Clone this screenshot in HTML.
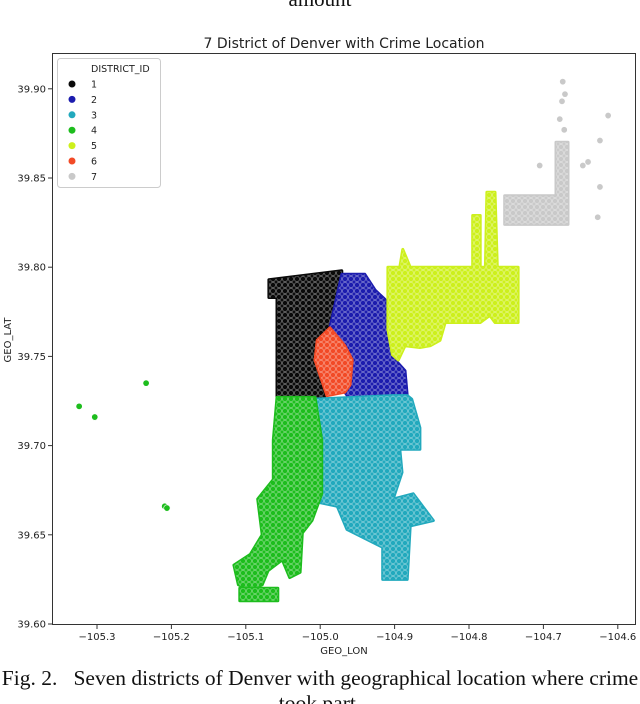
<!DOCTYPE html>
<html><head><meta charset="utf-8">
<style>
body{margin:0;background:#fff;}
svg{display:block;}
.t{font-family:"DejaVu Sans","Liberation Sans",sans-serif;fill:#222;}
.cap{font-family:"Liberation Serif",serif;fill:#111;}
</style></head>
<body>
<svg id="chart" width="640" height="704" viewBox="0 0 640 704" xmlns="http://www.w3.org/2000/svg">
<defs>
<pattern id="dots" width="6" height="6" patternUnits="userSpaceOnUse">
<circle cx="3" cy="3" r="2.6" fill="none" stroke="#fff" stroke-opacity="0.45" stroke-width="0.7"/>
</pattern>
</defs>
<text class="cap" x="320" y="6" font-size="21" text-anchor="middle">amount</text>
<text class="t" x="344" y="48" font-size="14" text-anchor="middle">7 District of Denver with Crime Location</text>
<g id="marks"></g>
<rect x="52.5" y="53.5" width="583" height="571" fill="none" stroke="#333" stroke-width="1"/>
<g id="axes"></g>
<text class="t" x="344" y="654" font-size="10" text-anchor="middle">GEO_LON</text>
<text class="t" transform="translate(11,340) rotate(-90)" font-size="10" text-anchor="middle">GEO_LAT</text>
<g>
<rect x="57.5" y="58.5" width="103" height="129" rx="3" fill="#fff" fill-opacity="0.85" stroke="#ccc"/>
<text class="t" x="91" y="72" font-size="9.5">DISTRICT_ID</text>
<g id="legend-items"></g>
</g>
<text class="cap" x="320" y="685" font-size="21.5" text-anchor="middle">Fig. 2.&#160;&#160; Seven districts of Denver with geographical location where crime</text>
<text class="cap" x="320" y="710" font-size="21.5" text-anchor="middle">took part.</text>
</svg>
<script>
const districtIds = ["1","2","3","4","5","6","7"];
const districtColors = ["#0a0a0a","#1c1cae","#22a9bd","#1dbd1d","#cdf01c","#f24a26","#c9c9c9"];
const xTicks = [-105.3,-105.2,-105.1,-105.0,-104.9,-104.8,-104.7,-104.6];
const xTickLabels = ["\u2212105.3","\u2212105.2","\u2212105.1","\u2212105.0","\u2212104.9","\u2212104.8","\u2212104.7","\u2212104.6"];
const yTicks = [39.60,39.65,39.70,39.75,39.80,39.85,39.90];
const yTickLabels = ["39.60","39.65","39.70","39.75","39.80","39.85","39.90"];
// district areas (lon,lat polygons)
const area1 = [[-105.069,39.793],[-104.971,39.798],[-104.971,39.790],[-104.987,39.766],[-105.004,39.759],[-105.007,39.748],[-104.994,39.727],[-105.058,39.727],[-105.058,39.783],[-105.069,39.783]];
const area2 = [[-104.971,39.796],[-104.940,39.796],[-104.926,39.787],[-104.913,39.782],[-104.906,39.776],[-104.909,39.765],[-104.899,39.748],[-104.886,39.742],[-104.883,39.728],[-104.902,39.728],[-104.910,39.726],[-104.960,39.726],[-104.967,39.730],[-104.957,39.748],[-104.967,39.756],[-104.987,39.766]];
const area3 = [[-105.011,39.726],[-104.902,39.728],[-104.883,39.728],[-104.877,39.726],[-104.866,39.710],[-104.866,39.698],[-104.893,39.698],[-104.890,39.685],[-104.902,39.670],[-104.875,39.673],[-104.848,39.658],[-104.879,39.655],[-104.883,39.625],[-104.916,39.625],[-104.916,39.643],[-104.964,39.653],[-104.977,39.666],[-105.000,39.668],[-105.000,39.703]];
const area4 = [[-105.058,39.727],[-105.007,39.727],[-104.998,39.703],[-104.998,39.673],[-105.011,39.658],[-105.024,39.651],[-105.027,39.629],[-105.041,39.626],[-105.051,39.636],[-105.070,39.630],[-105.078,39.622],[-105.094,39.619],[-105.110,39.622],[-105.116,39.633],[-105.094,39.639],[-105.078,39.650],[-105.084,39.670],[-105.063,39.681],[-105.063,39.703]];
const area4b = [[-105.108,39.620],[-105.057,39.620],[-105.057,39.613],[-105.108,39.613]];
const area5 = [[-104.909,39.800],[-104.893,39.800],[-104.889,39.810],[-104.879,39.800],[-104.795,39.800],[-104.795,39.829],[-104.785,39.829],[-104.785,39.800],[-104.778,39.800],[-104.776,39.842],[-104.765,39.842],[-104.762,39.800],[-104.734,39.800],[-104.734,39.769],[-104.765,39.769],[-104.772,39.773],[-104.785,39.769],[-104.832,39.769],[-104.839,39.759],[-104.852,39.756],[-104.866,39.755],[-104.886,39.756],[-104.895,39.748],[-104.903,39.751],[-104.909,39.765]];
const area6 = [[-104.987,39.766],[-104.967,39.756],[-104.957,39.748],[-104.960,39.734],[-104.967,39.730],[-104.991,39.728],[-105.007,39.748],[-105.004,39.759]];
const area7 = [[-104.752,39.840],[-104.683,39.840],[-104.683,39.870],[-104.667,39.870],[-104.667,39.824],[-104.752,39.824]];
const areas = [[area1],[area2],[area3],[area4,area4b],[area5],[area6],[area7]];
// isolated points
const outlierLon = [-105.324,-105.303,-105.209,-105.206,-105.234,-104.613,-104.624,-104.624,-104.627,-104.705,-104.647,-104.674,-104.671,-104.678,-104.672,-104.675,-104.640];
const outlierLat = [39.722,39.716,39.666,39.665,39.735,39.885,39.871,39.845,39.828,39.857,39.857,39.904,39.897,39.883,39.877,39.893,39.859];
const outlierDistrict = [4,4,4,4,4,7,7,7,7,7,7,7,7,7,7,7,7];

const NS="http://www.w3.org/2000/svg";
function xs(lon){return 97+(lon+105.3)*744;}
function ys(lat){return 624-(lat-39.60)*1784;}
function mk(tag,attrs,parent){const e=document.createElementNS(NS,tag);for(const k in attrs)e.setAttribute(k,attrs[k]);parent.appendChild(e);return e;}

const marks=document.getElementById('marks');
areas.forEach((polys,i)=>{
  polys.forEach(poly=>{
    const d='M'+poly.map(p=>xs(p[0]).toFixed(1)+','+ys(p[1]).toFixed(1)).join('L')+'Z';
    const a=mk('path',{d:d,fill:districtColors[i],stroke:districtColors[i],'stroke-width':3,'stroke-linejoin':'round'},marks);
    
    
    const b=mk('path',{d:d,fill:'url(#dots)'},marks);
    
    
  });
});
outlierLon.forEach((lon,i)=>{
  const c=mk('circle',{cx:xs(lon),cy:ys(outlierLat[i]),r:3.2,fill:districtColors[outlierDistrict[i]-1],stroke:'#fff','stroke-width':0.6},marks);
  
  
});

const axes=document.getElementById('axes');
xTicks.forEach((v,i)=>{
  const x=xs(v);
  mk('line',{x1:x,x2:x,y1:625,y2:629,stroke:'#333'},axes);
  const t=mk('text',{x:x,y:640,'font-size':10,'text-anchor':'middle',class:'t'},axes);
  t.textContent=xTickLabels[i];
  
  
});
yTicks.forEach((v,i)=>{
  const y=ys(v);
  mk('line',{x1:48,x2:52,y1:y,y2:y,stroke:'#333'},axes);
  const t=mk('text',{x:46,y:y+3.5,'font-size':10,'text-anchor':'end',class:'t'},axes);
  t.textContent=yTickLabels[i];
  
  
});

const leg=document.getElementById('legend-items');
districtIds.forEach((id,i)=>{
  const y=84+i*15.4;
  const g=mk('g',{},leg);
  
  
  mk('circle',{cx:72,cy:y,r:3.5,fill:districtColors[i]},g);
  const t=mk('text',{x:91,y:y+3.5,'font-size':9.5,class:'t'},g);
  t.textContent=id;
});
</script>
</body></html>
